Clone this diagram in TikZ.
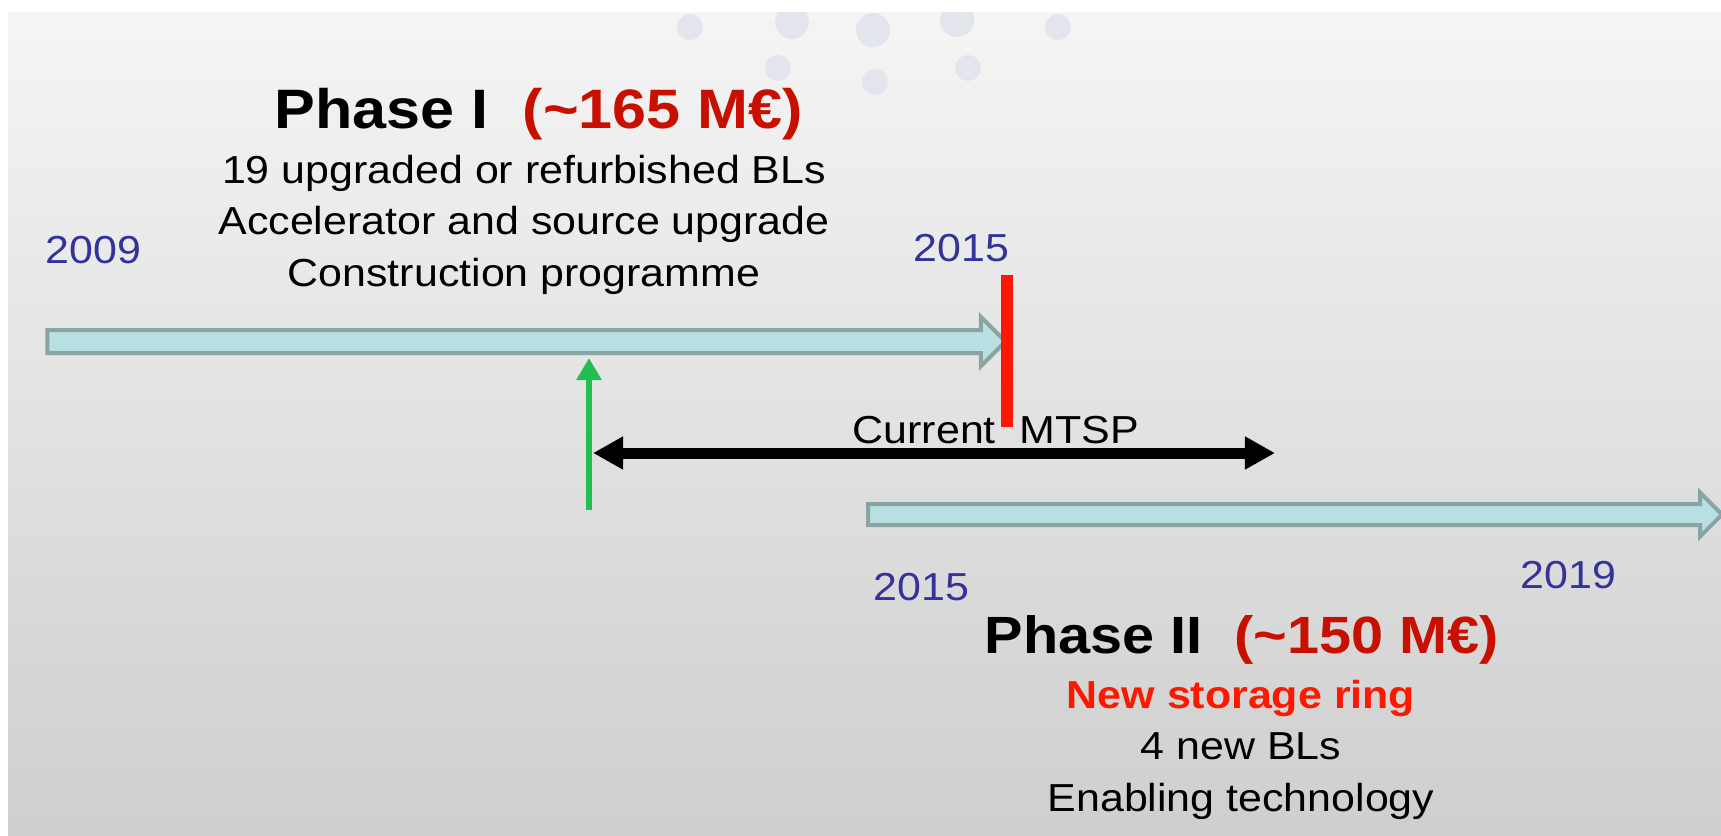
\documentclass[tikz,border=0pt]{standalone}
\usepackage{fontspec}
\setmainfont{Liberation Sans}[FakeStretch=1.1]
\usetikzlibrary{shapes.arrows}
\usetikzlibrary{arrows.meta}
\definecolor{yearblue}{RGB}{51,51,153}
\definecolor{costred}{RGB}{200,16,0}
\definecolor{ringred}{RGB}{255,24,0}
\definecolor{tlfill}{RGB}{184,223,226}
\definecolor{tledge}{RGB}{138,163,163}
\definecolor{mtspgreen}{RGB}{34,190,84}
\definecolor{dotgray}{RGB}{226,229,236}

\begin{document}
\begin{tikzpicture}[x=0.01cm, y=-0.01cm, node distance={0.515cm},
    yr/.style = {text=yearblue, font=\fontsize{11.1}{13}\selectfont, inner sep=0, anchor=base west},
    body/.style = {font=\fontsize{11.1}{13}\selectfont, inner sep=0, text height=0.3cm, text depth=0.1cm},
    head/.style = {font=\bfseries\fontsize{15.8}{18}\selectfont, inner sep=0, anchor=base},
    tl/.style = {single arrow, draw=tledge, fill=tlfill, line width=0.04cm, inner xsep=0}]
    \useasboundingbox (0,0) rectangle (1721,835);
    \fill[white] (0,0) rectangle (1721,835);
    \shade[top color=gray!8, bottom color=gray!38] (8,12) rectangle (1721,835);
    % faint dots
    \begin{scope}
        \clip (8,12) rectangle (1721,835);
        \foreach \x/\y/\r in {690/27/13, 792/22/17, 873/30/17, 957/20/17, 1058/27/13, 778/68/13, 875/82/13, 968/68/13}
            \fill[dotgray] (\x,\y) circle[radius=\r];
    \end{scope}
    % timelines
    \node[tl, inner ysep=0.095cm, single arrow head extend=0.13cm, minimum height=9.575cm] (tl1) at (520.7,341.5) {};
    \node[tl, inner ysep=0.085cm, single arrow head extend=0.115cm, minimum height=8.535cm] (tl2) at (1289.8,514.5) {};
    % years
    \node[yr] (y09) at (45,263) {2009};
    \node[yr] (y15a) at (913,261) {2015};
    \node[yr] (y15b) at (873,600) {2015};
    \node[yr] (y19) at (1520,588) {2019};
    % phase I
    \node[head] (p1) at (539,128) {Phase I\ \ \textcolor{costred}{(\textasciitilde165 M€)}};
    \node[body, anchor=base] (p1a) at (524,183) {19 upgraded or refurbished BLs};
    \node[body] (p1b) [below of = p1a] {Accelerator and source upgrade};
    \node[body] (p1c) [below of = p1b] {Construction programme};
    % phase II
    \node[head, font=\bfseries\fontsize{14.9}{17}\selectfont] (p2) at (1242,653) {Phase II\ \ \textcolor{costred}{(\textasciitilde150 M€)}};
    \node[body, anchor=base, text=ringred, font=\bfseries\fontsize{11.1}{13}\selectfont] (p2a) at (1241,708) {New storage ring};
    \node[body] (p2b) [below of = p2a] {4 new BLs};
    \node[body] (p2c) [below of = p2b] {Enabling technology};
    % current MTSP
    \node[body, anchor=base west, text height=, text depth=] (mtsp) at (852,443) {Current\ \ MTSP};
    \coordinate (r0) at (1007,275);
    \coordinate (r1) at (1007,427);
    \coordinate (g0) at (589,510);
    \coordinate (g1) at (589,358);
    \coordinate (m0) at (593,453);
    \coordinate (m1) at (1275,453);
    \draw[ringred, line width=0.12cm] (r0) -- (r1);
    \draw[mtspgreen, line width=0.065cm, -{Triangle[length=0.22cm, width=0.24cm]}] (g0) -- (g1);
    \draw[line width=0.11cm, {Triangle[length=0.3cm, width=0.31cm]}-{Triangle[length=0.3cm, width=0.31cm]}] (m0) -- (m1);
\end{tikzpicture}
\end{document}
